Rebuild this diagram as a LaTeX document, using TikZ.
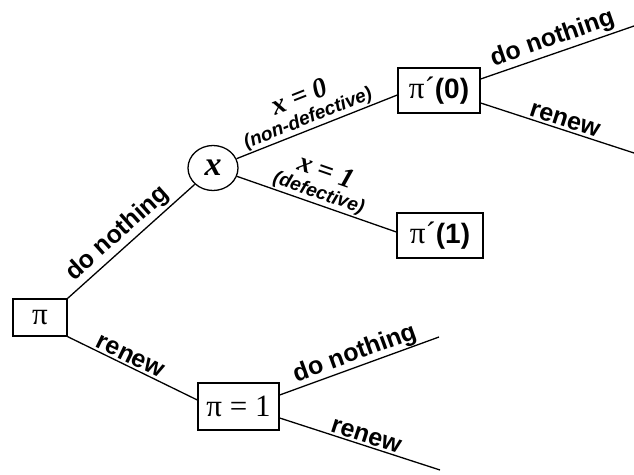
\documentclass[tikz,border=0pt]{standalone}
\usepackage{fontspec}
\setmainfont{Liberation Serif}
\newfontfamily\labfont{Liberation Sans}
\usetikzlibrary{shapes.geometric}
\begin{document}
\begin{tikzpicture}[x=1pt,y=-1pt,line width=1.3pt,
  box/.style={draw,rectangle,inner sep=0pt,font=\fontsize{31}{33}\selectfont},
  chance/.style={draw,ellipse,inner sep=0pt,minimum width=50pt,minimum height=45pt,font=\fontsize{34}{35}\selectfont\bfseries\itshape},
  lab/.style={font=\labfont\bfseries\fontsize{25}{27}\selectfont,sloped,above,inner sep=2pt},
  outc/.style={sloped,above,align=center,inner sep=1pt,font=\labfont\bfseries\itshape\fontsize{19}{20}\selectfont}]
\useasboundingbox (0,0) rectangle (634,474);
\node[box,minimum width=54pt,minimum height=37pt] (pi) at (40,317.5) {π};
\node[chance] (x) at (213,168) {x};
\node[box,minimum width=82pt,minimum height=45pt] (p0) at (439,90.5) {π´{\labfont\bfseries\fontsize{28}{30}\selectfont (0)}};
\node[box,minimum width=86pt,minimum height=45pt] (p1) at (440,235.5) {π´{\labfont\bfseries\fontsize{28}{30}\selectfont (1)}};
\node[box,minimum width=81pt,minimum height=47pt] (q) at (238.5,406.5) {π = 1};
\coordinate (a0) at (634,26);
\coordinate (a1) at (634,153);
\coordinate (b0) at (439,337);
\coordinate (b1) at (440,470);
\draw (pi.north east) -- node[lab,pos=0.47] {do nothing} (x);
\draw (pi.south east) -- node[lab,pos=0.45] {renew} ([yshift=6.5pt]q.west);
\draw (x) -- node[outc,pos=0.47] {{\rmfamily\bfseries\itshape\fontsize{28}{24}\selectfont x = 0}\\(non-defective)} ([yshift=-4.5pt]p0.west);
\draw (x) -- node[outc,pos=0.49] {{\rmfamily\bfseries\itshape\fontsize{28}{24}\selectfont x = 1}\\(defective)} ([yshift=3.5pt]p1.west);
\draw ([yshift=11.5pt]p0.east) -- node[lab,pos=0.5] {do nothing} (a0);
\draw ([yshift=-12.5pt]p0.east) -- node[lab,pos=0.53] {renew} (a1);
\draw ([yshift=11.5pt]q.east) -- node[lab,pos=0.5,inner sep=0.5pt] {do nothing} (b0);
\draw ([yshift=-11.5pt]q.east) -- node[lab,pos=0.52] {renew} (b1);
\end{tikzpicture}
\end{document}
